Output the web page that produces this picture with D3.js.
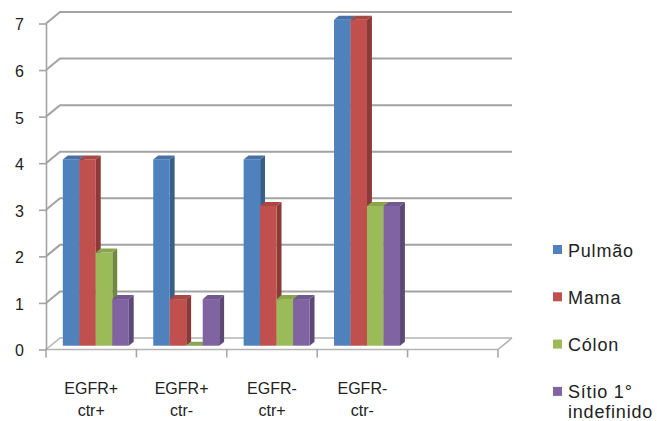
<!DOCTYPE html>
<html>
<head>
<meta charset="utf-8">
<script src="https://cdn.jsdelivr.net/npm/d3@7"></script>
<style>
  body { margin: 0; background: #fff; }
  text { font-family: "Liberation Sans", Arial, sans-serif; fill: #222; }
</style>
</head>
<body>
<div id="chart"></div>
<script>
const categories = ["EGFR+\nctr+", "EGFR+\nctr-", "EGFR-\nctr+", "EGFR-\nctr-", ""];
const seriesNames = ["Pulmão", "Mama", "Cólon", "Sítio 1°\nindefinido"];
const pulmao = [4, 4, 4, 7];
const mama = [4, 1, 3, 7];
const colon = [2, 0, 1, 3];
const sitio = [1, 1, 1, 3];
const yTicks = [0, 1, 2, 3, 4, 5, 6, 7];
const colors = ["#4f81bd", "#c0504d", "#9bbb59", "#8064a2"];

const w = 657, h = 421;
const svg = d3.select('#chart').append('svg').attr('width', w).attr('height', h);

const x = d3.scaleBand().domain(d3.range(categories.length)).range([46, 498]);
const xs = d3.scaleBand().domain(d3.range(seriesNames.length)).range([0, x.bandwidth()]).paddingOuter(0.74);
const y = d3.scaleLinear().domain([0, 7]).range([349.5, 23.5]);
// depth: 0 = front plane, 1 = back wall
const zx = d3.scaleLinear().domain([0, 1]).range([0, 14]);
const zy = d3.scaleLinear().domain([0, 1]).range([0, -11.5]);
const z0 = 0.33, z1 = 0.68;

const grid = svg.append('g');
const right = x.range()[1];
yTicks.forEach(v => {
    const col = v === 0 ? '#b4b4b4' : '#a3a3a3';
    const sw = v === 0 ? 1.6 : 2;
    grid.append('path')
        .attr('d', `M${x.range()[0]},${y(v)}L${x.range()[0] + zx(1)},${y(v) + zy(1)}H${right + zx(1)}`)
        .attr('fill', 'none').attr('stroke', col).attr('stroke-width', sw);
});
// floor front edge
grid.append('path')
    .attr('d', `M${x.range()[0]},${y(0)}H${right}L${right + zx(1)},${y(0) + zy(1)}`)
    .attr('fill', 'none').attr('stroke', '#b4b4b4').attr('stroke-width', 1.6);

// category ticks
grid.selectAll('line.xt')
    .data(d3.range(categories.length + 1))
    .enter().append('line')
    .attr('x1', i => i < categories.length ? x(i) : right)
    .attr('x2', i => i < categories.length ? x(i) : right)
    .attr('y1', y(0)).attr('y2', y(0) + 8)
    .attr('stroke', '#a3a3a3').attr('stroke-width', 1.5);

const yAxis = d3.axisLeft(y).tickValues(yTicks).tickFormat(d3.format('d'))
    .tickSize(7).tickSizeOuter(0).tickPadding(15);
const ya = svg.append('g').attr('transform', `translate(${x.range()[0]},0)`).call(yAxis);
ya.select('.domain').attr('stroke', '#a3a3a3').attr('stroke-width', 1.6);
ya.selectAll('.tick line').attr('stroke', '#a3a3a3').attr('stroke-width', 1.6);
ya.selectAll('.tick text').style('font-size', '16px').attr('fill', '#222').attr('dy', '0.4em');

// bars
const allSeries = [pulmao, mama, colon, sitio];
const bars = svg.append('g');
categories.forEach((c, ci) => {
    allSeries.forEach((vals, si) => {
        if (ci >= vals.length) return;
        const v = vals[ci];
        const xl = x(ci) + xs(si) + zx(z0);
        const xr = xl + xs.bandwidth();
        const yb = y(0) + zy(z0);
        const yt = y(v) + zy(z0);
        const ddx = zx(z1) - zx(z0), ddy = zy(z1) - zy(z0);
        const base = d3.color(colors[si]);
        // side
        bars.append('path')
            .attr('d', `M${xr},${yb}L${xr + ddx},${yb + ddy}L${xr + ddx},${yt + ddy}L${xr},${yt}Z`)
            .attr('fill', base.darker(0.9));
        // front
        bars.append('rect')
            .attr('x', xl).attr('y', yt).attr('width', xs.bandwidth()).attr('height', Math.max(0, yb - yt))
            .attr('fill', base);
        // top
        bars.append('path')
            .attr('d', `M${xl},${yt}L${xl + ddx},${yt + ddy}L${xr + ddx},${yt + ddy}L${xr},${yt}Z`)
            .attr('fill', base.darker(0.35));
    });
});

// category labels
categories.forEach((c, ci) => {
    if (!c) return;
    const t = svg.append('text')
        .attr('x', x(ci) + x.bandwidth() / 2)
        .attr('y', 394)
        .attr('text-anchor', 'middle')
        .style('font-size', '16px');
    c.split('\n').forEach((line, li) => {
        t.append('tspan').attr('x', x(ci) + x.bandwidth() / 2).attr('dy', li ? 22 : 0).text(line);
    });
});

// legend
const legend = svg.append('g');
seriesNames.forEach((name, i) => {
    const cy = 250 + i * 47.3;
    legend.append('rect').attr('x', 553).attr('y', cy - 5).attr('width', 9).attr('height', 9).attr('fill', colors[i]);
    const t = legend.append('text').attr('x', 568).attr('y', cy + 6.5)
        .style('font-size', '18px').style('letter-spacing', '0.8px');
    name.split('\n').forEach((line, li) => {
        t.append('tspan').attr('x', 568).attr('dy', li ? 20 : 0).text(line);
    });
});
</script>
</body>
</html>
